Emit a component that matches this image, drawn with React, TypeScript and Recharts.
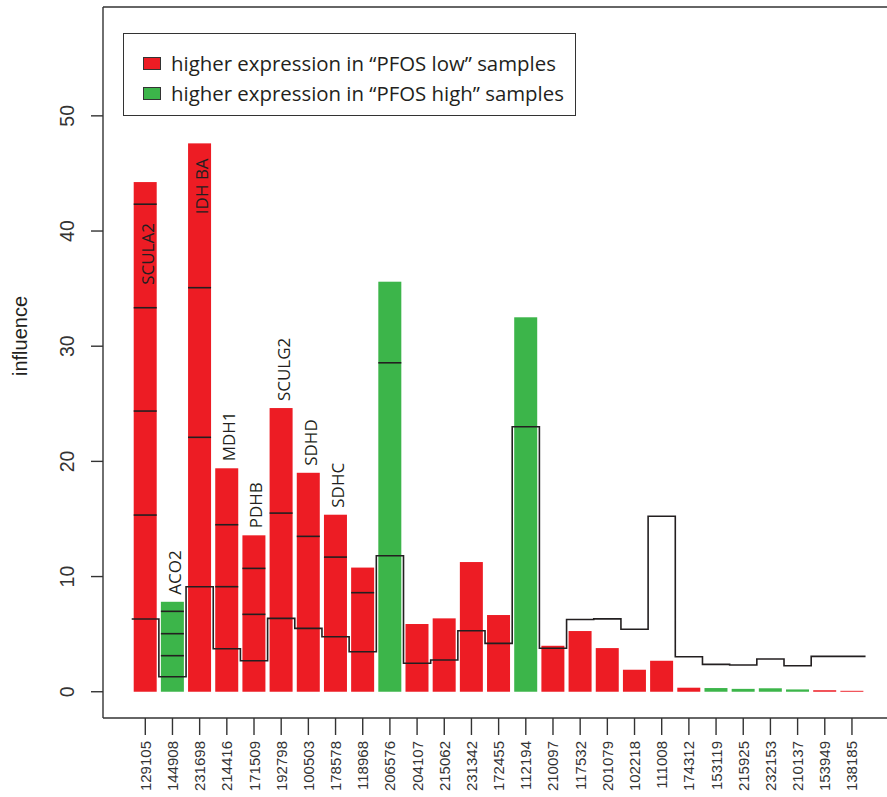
import React from "react";
import { ComposedChart, Bar, Line, XAxis, YAxis, ReferenceLine, Legend } from "recharts";

// probe ids along the x axis
const PROBES = [
  "129105", "144908", "231698", "214416", "171509", "192798", "100503", "178578", "118968",
  "206576", "204107", "215062", "231342", "172455", "112194", "210097", "117532", "201079",
  "102218", "111008", "174312", "153119", "215925", "232153", "210137", "153949", "138185",
];

// influence (bar height)
const INFLUENCE = [
  44.25, 7.81, 47.61, 19.4, 13.58, 24.63, 19.01, 15.37, 10.78,
  35.6, 5.88, 6.37, 11.26, 6.66, 32.51, 3.99, 5.27, 3.79,
  1.91, 2.69, 0.35, 0.32, 0.25, 0.3, 0.2, 0.13, 0.08,
];

// "low" = higher expression in PFOS low, "high" = higher expression in PFOS high
const GROUP = [
  "low", "high", "low", "low", "low", "low", "low", "low", "low",
  "high", "low", "low", "low", "low", "high", "low", "low", "low",
  "low", "low", "low", "high", "high", "high", "high", "low", "low",
];

// black step outline
const BASELINE = [
  6.31, 1.3, 9.12, 3.73, 2.69, 6.37, 5.5, 4.78, 3.47,
  11.81, 2.47, 2.75, 5.3, 4.2, 23.01, 3.77, 6.27, 6.33,
  5.42, 15.23, 3.04, 2.38, 2.32, 2.84, 2.26, 3.07, 3.07,
];

// dividing marks inside the bars
const SPLITS = [
  [15.34, 24.37, 33.34, 42.33], [3.13, 5.04, 6.98], [22.09, 35.08], [9.12, 14.5], [6.72, 10.71],
  [15.51], [13.49], [11.69], [8.6], [28.56],
];

const GENES = ["SCULA2", "ACO2", "IDH BA", "MDH1", "PDHB", "SCULG2", "SDHD", "SDHC"];

const LEGEND_ITEMS = [
  { key: "low", label: "higher expression in \u201cPFOS low\u201d samples" },
  { key: "high", label: "higher expression in \u201cPFOS high\u201d samples" },
];

const Y_TICKS = [0, 10, 20, 30, 40, 50];

const RED = "#ed1c24";
const GREEN = "#3cb54a";
const INK = "#231f20";
const AXIS = "#333";
const Y_MIN = -2.28;
const Y_MAX = 59.45;
const X_MIN = -1.556;
const X_MAX = 27.51;

// labels that would hit the legend go inside the bar, this far below its top
const INSIDE_GAP: Record<string, number> = { SCULA2: 41, "IDH BA": 15 };

const rows = PROBES.map((id, i) => ({ x: i, id, value: INFLUENCE[i], group: GROUP[i] }));
const stepRows = BASELINE.map((s, i) => ({ x: i - 0.5, step: s })).concat([
  { x: BASELINE.length - 0.5, step: BASELINE[BASELINE.length - 1] },
]);

function BarShape(props: any) {
  const { x, y, width, height, index } = props;
  const v = INFLUENCE[index];
  const k = v > 0 ? height / v : 0;
  const base = y + height;
  const fill = GROUP[index] === "high" ? GREEN : RED;
  const gene = GENES[index];
  const cx = x + width / 2 + 2;
  let label = null;
  if (gene) {
    const inside = INSIDE_GAP[gene] !== undefined;
    const ty = inside ? y + INSIDE_GAP[gene] : y - 7;
    label = (
      <text
        x={cx}
        y={ty}
        transform={`rotate(-90 ${cx} ${ty})`}
        textAnchor={inside ? "end" : "start"}
        dominantBaseline="central"
        fontFamily="'Open Sans', sans-serif"
        fontSize={17}
        fill={INK}
      >
        {gene}
      </text>
    );
  }
  return (
    <g>
      <rect x={x} y={y} width={width} height={height} fill={fill} />
      {(SPLITS[index] || []).map((t, j) => (
        <line key={j} x1={x} x2={x + width} y1={base - t * k} y2={base - t * k} stroke={INK} strokeWidth={1.6} />
      ))}
      {label}
    </g>
  );
}

function XTick(props: any) {
  const { x, y, payload } = props;
  return (
    <text
      x={x}
      y={y}
      transform={`rotate(-90 ${x} ${y})`}
      textAnchor="end"
      dominantBaseline="central"
      fontFamily="'Liberation Sans', Arial, sans-serif"
      fontSize={15}
      fill={AXIS}
    >
      {PROBES[payload.value]}
    </text>
  );
}

function YTick(props: any) {
  const { x, y, payload } = props;
  const tx = x - 24;
  return (
    <text
      x={tx}
      y={y}
      transform={`rotate(-90 ${tx} ${y})`}
      textAnchor="middle"
      dominantBaseline="central"
      fontFamily="'Liberation Sans', Arial, sans-serif"
      fontSize={19.5}
      fill={AXIS}
    >
      {payload.value}
    </text>
  );
}

function YTitle() {
  return (
    <text
      x={20}
      y={336}
      transform="rotate(-90 20 336)"
      textAnchor="middle"
      dominantBaseline="central"
      fontFamily="'Liberation Sans', Arial, sans-serif"
      fontSize={20}
      fill={INK}
    >
      influence
    </text>
  );
}

function LegendBox() {
  return (
    <div
      style={{
        width: 453,
        height: 83,
        boxSizing: "border-box",
        border: `1.5px solid ${AXIS}`,
        background: "#fff",
        padding: "14px 0 0 19px",
        fontFamily: "'Open Sans', sans-serif",
        fontSize: 20.4,
        color: INK,
      }}
    >
      {LEGEND_ITEMS.map((it) => (
        <div key={it.key} style={{ display: "flex", alignItems: "center", height: 30 }}>
          <span
            style={{
              display: "inline-block",
              width: 18,
              height: 13,
              boxSizing: "border-box",
              border: "1px solid #333",
              background: it.key === "high" ? GREEN : RED,
              marginRight: 10,
              flexShrink: 0,
            }}
          />
          <span style={{ whiteSpace: "nowrap" }}>{it.label}</span>
        </div>
      ))}
    </div>
  );
}

export default function App() {
  return (
    <div style={{ position: "absolute", left: 0, top: 0, width: 887, height: 797, overflow: "hidden", background: "#fff" }}>
      <ComposedChart width={900} height={797} data={rows} margin={{ top: 7, right: 7, bottom: 0, left: 0 }}>
        <XAxis
          xAxisId="bars"
          type="number"
          dataKey="x"
          domain={[X_MIN, X_MAX]}
          allowDataOverflow
          ticks={PROBES.map((_, i) => i)}
          interval={0}
          height={79}
          tickSize={17}
          tickMargin={6}
          tick={<XTick />}
          axisLine={{ stroke: AXIS, strokeWidth: 1.4 }}
          tickLine={{ stroke: AXIS, strokeWidth: 1.4 }}
        />
        <XAxis xAxisId="step" type="number" dataKey="x" domain={[X_MIN, X_MAX]} allowDataOverflow hide />
        <YAxis
          type="number"
          domain={[Y_MIN, Y_MAX]}
          allowDataOverflow
          ticks={Y_TICKS}
          interval={0}
          width={103}
          tickSize={12}
          tickMargin={0}
          tick={<YTick />}
          axisLine={{ stroke: AXIS, strokeWidth: 1.4 }}
          tickLine={{ stroke: AXIS, strokeWidth: 1.4 }}
          label={{ content: () => <YTitle /> }}
        />
        <ReferenceLine xAxisId="bars" y={Y_MAX} stroke={AXIS} strokeWidth={1.4} />
        <Legend
          layout="horizontal"
          verticalAlign="middle"
          align="center"
          wrapperStyle={{ left: 123, top: 33, width: 453, height: 83 }}
          content={() => <LegendBox />}
        />
        <Bar
          xAxisId="bars"
          dataKey="value"
          barSize={23}
          shape={(p: any) => <BarShape {...p} />}
          isAnimationActive={false}
        />
        <Line
          xAxisId="step"
          data={stepRows}
          dataKey="step"
          type="stepAfter"
          stroke={INK}
          strokeWidth={1.6}
          dot={false}
          activeDot={false}
          isAnimationActive={false}
        />
      </ComposedChart>
    </div>
  );
}
